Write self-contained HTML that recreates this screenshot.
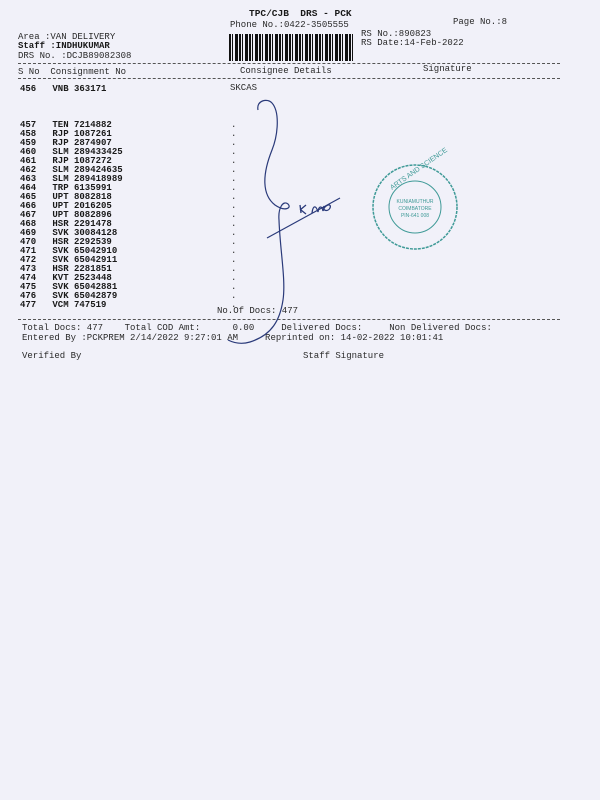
<!DOCTYPE html>
<html><head><meta charset="utf-8"><style>
html,body{margin:0;padding:0}
body{width:600px;height:800px;background:#f1f1f9;position:relative;overflow:hidden;font-family:"Liberation Mono",monospace;font-size:9px;color:#2a2a2a}
.t{position:absolute;white-space:pre;line-height:9px}
.b{font-weight:bold;color:#1a1a1a}
.hr{position:absolute;height:0;border-top:1px dashed #555}
</style></head><body>
<div class="t b" style="left:249px;top:9px;font-size:9.5px">TPC/CJB  DRS - PCK</div>
<div class="t" style="left:230px;top:21px">Phone No.:0422-3505555</div>
<div class="t" style="left:453px;top:18px">Page No.:8</div>
<div class="t" style="left:18px;top:33px">Area :VAN DELIVERY</div>
<div class="t b" style="left:18px;top:42px">Staff :INDHUKUMAR</div>
<div class="t" style="left:18px;top:52px">DRS No. :DCJB89082308</div>
<div class="t" style="left:361px;top:30px">RS No.:890823</div>
<div class="t" style="left:361px;top:39px">RS Date:14-Feb-2022</div>
<div style="position:absolute;left:229px;top:34px;width:125px;height:27px;background:repeating-linear-gradient(90deg,#111 0 2px,#f1f1f9 2px 3px,#111 3px 4px,#f1f1f9 4px 6px,#111 6px 9px,#f1f1f9 9px 10px)"></div>
<div class="hr" style="left:18px;top:63px;width:542px"></div>
<div class="t" style="left:18px;top:68px">S No  Consignment No</div>
<div class="t" style="left:240px;top:67px">Consignee Details</div>
<div class="t" style="left:423px;top:65px">Signature</div>
<div class="hr" style="left:18px;top:78px;width:542px"></div>
<div class="t b" style="left:20px;top:85px">456   VNB 363171</div>
<div class="t" style="left:230px;top:84px">SKCAS</div>
<div class="t b" style="left:20px;top:121px">457   TEN 7214882
458   RJP 1087261
459   RJP 2874907
460   SLM 289433425
461   RJP 1087272
462   SLM 289424635
463   SLM 289418989
464   TRP 6135991
465   UPT 8082818
466   UPT 2016205
467   UPT 8082896
468   HSR 2291478
469   SVK 30084128
470   HSR 2292539
471   SVK 65042910
472   SVK 65042911
473   HSR 2281851
474   KVT 2523448
475   SVK 65042881
476   SVK 65042879
477   VCM 747519</div>
<div class="t" style="left:231px;top:121px">.
.
.
.
.
.
.
.
.
.
.
.
.
.
.
.
.
.
.
.
.</div>
<div class="t" style="left:217px;top:307px">No.Of Docs: 477</div>
<div class="hr" style="left:18px;top:319px;width:542px"></div>
<div class="t" style="left:22px;top:324px">Total Docs: 477    Total COD Amt:      0.00     Delivered Docs:     Non Delivered Docs:</div>
<div class="t" style="left:22px;top:334px">Entered By :PCKPREM 2/14/2022 9:27:01 AM     Reprinted on: 14-02-2022 10:01:41</div>
<div class="t" style="left:22px;top:352px">Verified By</div>
<div class="t" style="left:303px;top:352px">Staff Signature</div>
<svg width="600" height="800" style="position:absolute;left:0;top:0" fill="none">
<path d="M258,110 C256,100 268,98 272,103 C280,112 278,135 272,150 C262,175 262,195 275,205 C285,212 292,208 288,204 C283,200 278,208 279,220 C280,250 286,280 283,300 C280,320 272,335 250,342 C240,345 232,342 228,340" stroke="#2a3a7a" stroke-width="1.2"/>
<path d="M267,238 L340,198" stroke="#2a3a7a" stroke-width="1.2"/>
<path d="M300,205 L301,213 M300,210 L306,205 M301,210 L306,214 M312,213 C313,205 316,205 318,212 C319,205 322,206 323,211 C325,204 332,203 330,208 C328,212 322,211 324,206" stroke="#2a3a7a" stroke-width="1.3"/>
<circle cx="415" cy="207" r="42" stroke="#3f9a97" stroke-width="1.5" stroke-dasharray="3 1"/>
<circle cx="415" cy="207" r="26" stroke="#3f9a97" stroke-width="1"/>
<text x="415" y="203" font-size="5" fill="#3f9a97" text-anchor="middle" font-family="Liberation Sans,sans-serif">KUNIAMUTHUR</text>
<text x="415" y="210" font-size="5" fill="#3f9a97" text-anchor="middle" font-family="Liberation Sans,sans-serif">COIMBATORE</text>
<text x="415" y="217" font-size="5" fill="#3f9a97" text-anchor="middle" font-family="Liberation Sans,sans-serif">PIN-641 008</text>
<text x="392" y="190" font-size="7" fill="#3f9a97" font-family="Liberation Sans,sans-serif" transform="rotate(-35 392 190)">ARTS AND SCIENCE</text>
</svg>
</body></html>
